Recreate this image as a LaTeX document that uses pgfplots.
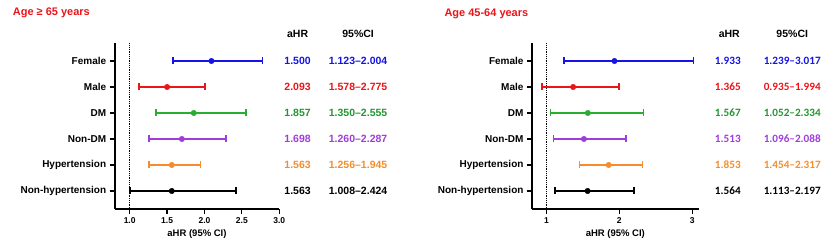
\documentclass[border=0pt]{standalone}
\usepackage{fontspec}
\setmainfont{Liberation Sans}
\newfontfamily\carl[Ligatures=TeX]{Carlito}
\usepackage{pgfplots}
\pgfplotsset{compat=1.18}
\definecolor{cblue}{RGB}{20,20,230}
\definecolor{cred}{RGB}{235,20,25}
\definecolor{cgreen}{RGB}{40,175,50}
\definecolor{cgreentxt}{RGB}{35,150,50}
\definecolor{cpurple}{RGB}{160,60,220}
\definecolor{corange}{RGB}{245,140,45}
\pgfplotsset{
  forest/.style={
    scale only axis, height=165.88pt, anchor=south west,
    axis lines*=left, axis line style={line width=1.6pt,-},
    y dir=reverse, ymin=0.32, ymax=6.70,
    ytick={1,2,3,4,5,6},
    yticklabels={Female,Male,DM,Non-DM,Hypertension,Non-hypertension},
    tick align=outside, major tick length=5pt,
    tick style={line width=1.2pt,black},
    xtick pos=bottom, ytick pos=left,
    yticklabel style={font=\bfseries\fontsize{10}{12}\selectfont},
    xticklabel style={font=\bfseries\fontsize{8.5}{10}\selectfont},
    /pgf/number format/assume math mode=true,
    clip=false,
    every error bar/.append style={line width=1.8pt},
  },
  ci/.style={color=#1, line width=1.8pt, mark=*, mark size=2.7pt,
    mark options={fill=#1, draw=#1, line width=0.5pt},
    error bars/.cd, x dir=both, x explicit,
    error bar style={line width=1.8pt, color=#1},
    error mark options={line width=1.6pt, mark size=3.5pt, rotate=90, color=#1}},
  /pgfplots/table/ciT/.style={row sep=\\, x=x, y=y,
    x error plus expr=\thisrow{hi}-\thisrow{x},
    x error minus expr=\thisrow{x}-\thisrow{lo}},
}
\begin{document}
\begin{tikzpicture}
\useasboundingbox (0,0) rectangle (824pt,245pt);
% ---------------- left panel ----------------
\begin{axis}[forest, at={(114.7pt,35.8pt)}, width=164.6pt,
  xmin=0.8, xmax=3.0, xtick={1,1.5,2,2.5,3},
  xticklabels={1.0,1.5,2.0,2.5,3.0}]
\addplot[black, densely dotted, line width=0.8pt, forget plot] coordinates {(1,0.32) (1,6.70)};
\addplot[ci=cblue]   table[ciT] {x y lo hi\\ 2.093 1 1.578 2.775\\};
\addplot[ci=cred]    table[ciT] {x y lo hi\\ 1.500 2 1.123 2.004\\};
\addplot[ci=cgreen]  table[ciT] {x y lo hi\\ 1.857 3 1.350 2.555\\};
\addplot[ci=cpurple] table[ciT] {x y lo hi\\ 1.698 4 1.260 2.287\\};
\addplot[ci=corange] table[ciT] {x y lo hi\\ 1.563 5 1.256 1.945\\};
\addplot[ci=black]   table[ciT] {x y lo hi\\ 1.563 6 1.008 2.424\\};
\begin{scope}[font=\bfseries\fontsize{10.5}{12}\selectfont]
\node at (axis cs:3.245,-0.05) {aHR};
\node at (axis cs:4.053,-0.05) {95\%CI};
\node[cblue]      at (axis cs:3.245,1) {1.500};
\node[cblue]      at (axis cs:4.053,1) {1.123–2.004};
\node[cred]       at (axis cs:3.245,2) {2.093};
\node[cred]       at (axis cs:4.053,2) {1.578–2.775};
\node[cgreentxt]  at (axis cs:3.245,3) {1.857};
\node[cgreentxt]  at (axis cs:4.053,3) {1.350–2.555};
\node[cpurple]    at (axis cs:3.245,4) {1.698};
\node[cpurple]    at (axis cs:4.053,4) {1.260–2.287};
\node[corange]    at (axis cs:3.245,5) {1.563};
\node[corange]    at (axis cs:4.053,5) {1.256–1.945};
\node[black]      at (axis cs:3.245,6) {1.563};
\node[black]      at (axis cs:4.053,6) {1.008–2.424};
\end{scope}
\node[font=\bfseries\fontsize{9.5}{11}\selectfont] at (rel axis cs:0.5,0) [yshift=-25pt] {aHR (95\% CI)};
\end{axis}
% ---------------- right panel ----------------
\begin{axis}[forest, at={(532pt,35.8pt)}, width=166.7pt,
  xmin=0.8, xmax=3.09, xtick={1,2,3}, xticklabels={1,2,3}]
\addplot[black, densely dotted, line width=0.8pt, forget plot] coordinates {(1,0.32) (1,6.70)};
\addplot[ci=cblue]   table[ciT] {x y lo hi\\ 1.933 1 1.239 3.017\\};
\addplot[ci=cred]    table[ciT] {x y lo hi\\ 1.365 2 0.935 1.994\\};
\addplot[ci=cgreen]  table[ciT] {x y lo hi\\ 1.567 3 1.052 2.334\\};
\addplot[ci=cpurple] table[ciT] {x y lo hi\\ 1.513 4 1.096 2.088\\};
\addplot[ci=corange] table[ciT] {x y lo hi\\ 1.853 5 1.454 2.317\\};
\addplot[ci=black]   table[ciT] {x y lo hi\\ 1.564 6 1.113 2.197\\};
\begin{scope}[font=\bfseries\fontsize{10.5}{12}\selectfont]
\node at (axis cs:3.51,-0.05) {aHR};
\node at (axis cs:4.375,-0.05) {95\%CI};
\end{scope}
\begin{scope}[font=\carl\bfseries\fontsize{11.2}{13}\selectfont]
\node[cblue]      at (axis cs:3.49,1) {1.933};
\node[cblue]      at (axis cs:4.375,1) {1.239–3.017};
\node[cred]       at (axis cs:3.49,2) {1.365};
\node[cred]       at (axis cs:4.375,2) {0.935–1.994};
\node[cgreentxt]  at (axis cs:3.49,3) {1.567};
\node[cgreentxt]  at (axis cs:4.375,3) {1.052–2.334};
\node[cpurple]    at (axis cs:3.49,4) {1.513};
\node[cpurple]    at (axis cs:4.375,4) {1.096–2.088};
\node[corange]    at (axis cs:3.49,5) {1.853};
\node[corange]    at (axis cs:4.375,5) {1.454–2.317};
\node[black]      at (axis cs:3.49,6) {1.564};
\node[black]      at (axis cs:4.375,6) {1.113–2.197};
\end{scope}
\node[font=\bfseries\fontsize{9.5}{11}\selectfont] at (rel axis cs:0.5,0) [yshift=-25pt] {aHR (95\% CI)};
\end{axis}
% titles
\node[anchor=west, inner sep=0pt, cred, font=\bfseries\fontsize{11}{13}\selectfont] at (12.7pt,231.7pt) {Age ≥ 65 years};
\node[anchor=west, inner sep=0pt, cred, font=\bfseries\fontsize{11}{13}\selectfont] at (444.3pt,231pt) {Age 45-64 years};
\end{tikzpicture}
\end{document}
